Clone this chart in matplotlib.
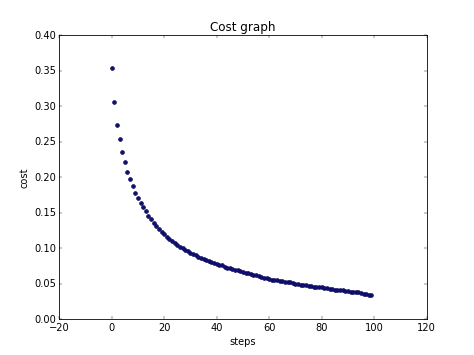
import numpy as np
import matplotlib
matplotlib.use('Agg')
import matplotlib.pyplot as plt

# Custo por iteração
cost = [
    0.353, 0.306, 0.274, 0.254, 0.235, 0.221, 0.207, 0.197, 0.187, 0.178,
    0.171, 0.164, 0.158, 0.152, 0.146, 0.141, 0.136, 0.131, 0.127, 0.123,
    0.120, 0.116, 0.113, 0.110, 0.107, 0.105, 0.102, 0.100, 0.098, 0.096,
    0.094, 0.092, 0.090, 0.088, 0.087, 0.085, 0.084, 0.082, 0.081, 0.079,
    0.078, 0.077, 0.076, 0.074, 0.073, 0.072, 0.071, 0.070, 0.069, 0.068,
    0.067, 0.066, 0.065, 0.064, 0.063, 0.062, 0.061, 0.060, 0.059, 0.058,
    0.057, 0.056, 0.056, 0.055, 0.054, 0.054, 0.053, 0.052, 0.052, 0.051,
    0.050, 0.050, 0.049, 0.049, 0.048, 0.047, 0.047, 0.046, 0.046, 0.045,
    0.045, 0.044, 0.044, 0.043, 0.043, 0.042, 0.042, 0.041, 0.041, 0.040,
    0.040, 0.039, 0.039, 0.038, 0.038, 0.037, 0.036, 0.036, 0.035, 0.034,
]
steps = list(range(len(cost)))

plt.style.use('classic')
plt.figure(figsize=(8, 6))
plt.scatter(steps, cost, s=20, c='#10107a', edgecolors='#0a0a5a')
plt.xlim(-20, 120)
plt.ylim(0, 0.40)
plt.title('Cost graph')
plt.xlabel('steps')
plt.ylabel('cost')
plt.savefig('out.png', dpi=59.25)
